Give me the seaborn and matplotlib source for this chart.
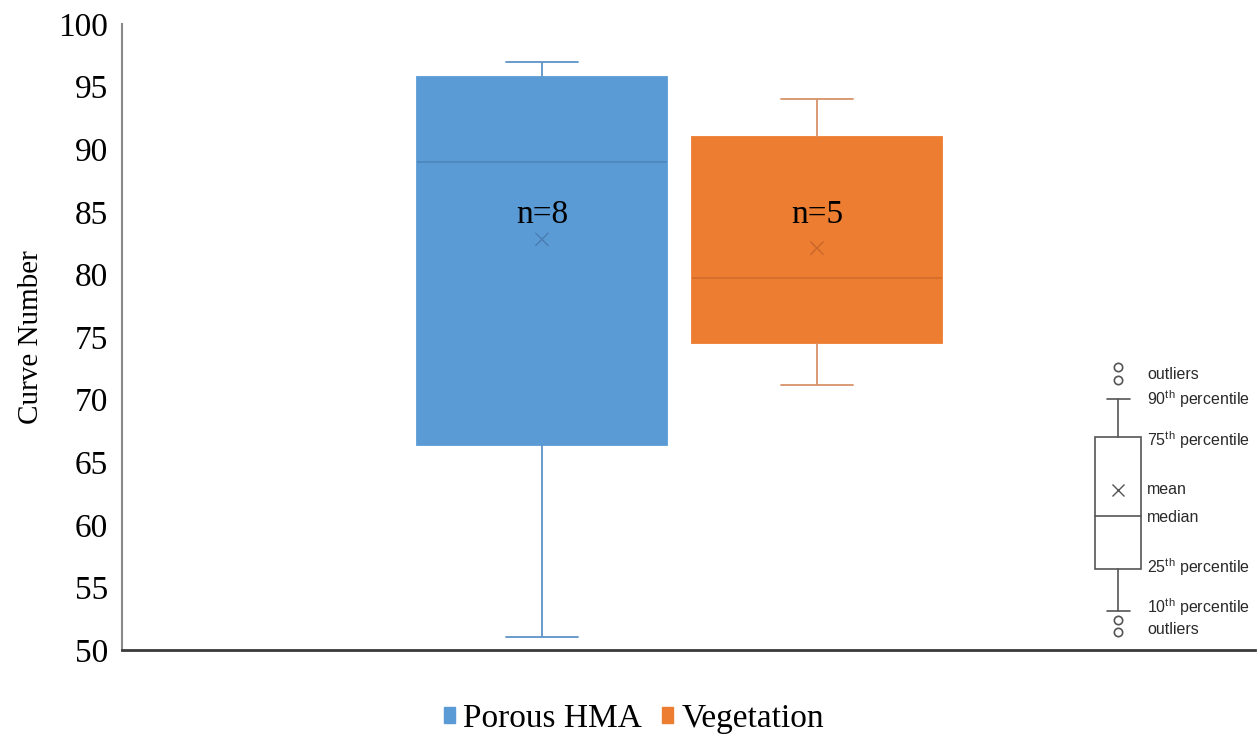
import matplotlib
matplotlib.use("Agg")
import matplotlib.pyplot as plt
from matplotlib.patches import Patch, Rectangle
import numpy as np
import pandas as pd
import seaborn as sns

# values (curve numbers per site type)
groups = ["Porous HMA", "Vegetation"]
porous_hma = [51.0, 66.4, 66.4, 88.5, 89.5, 95.4, 97.0, 97.0]
vegetation = [71.2, 74.5, 79.7, 91.0, 94.0]
means = [82.8, 82.1]
y_ticks = [50, 55, 60, 65, 70, 75, 80, 85, 90, 95, 100]

fill_colors = ["#5B9BD5", "#ED7D31"]
whisker_colors = ["#5E93C8", "#D8936A"]
median_colors = ["#4F86BE", "#D46E2C"]
mean_colors = ["#4A7DB2", "#C8662C"]

sns.set_style("white")
plt.rcParams["font.family"] = ["Liberation Serif", "DejaVu Serif"]
plt.rcParams["mathtext.fontset"] = "custom"
plt.rcParams["mathtext.rm"] = "Liberation Sans"
for key_name in ["text.color", "axes.labelcolor", "xtick.color", "ytick.color"]:
    plt.rcParams[key_name] = "black"

df = pd.DataFrame({
    "group": [groups[0]] * len(porous_hma) + [groups[1]] * len(vegetation),
    "cn": porous_hma + vegetation,
})

fig = plt.figure(figsize=(12.6, 7.55), dpi=100)
ax = fig.add_axes([122 / 1260, 1 - 650 / 755, (1255 - 122) / 1260, (650 - 24) / 755])

sns.boxplot(data=df, x="group", y="cn", hue="group", order=groups, hue_order=groups,
            palette=fill_colors, saturation=1, whis=(0, 100), width=0.91,
            showfliers=False, linewidth=1.3, capwidths=0.26, legend=False, ax=ax)

for patch, c in zip(ax.patches, fill_colors):
    patch.set_edgecolor(c)

for line in ax.lines:
    xd = np.asarray(line.get_xdata(), dtype=float)
    idx = int(round(xd.mean()))
    if xd.max() - xd.min() > 0.5:
        line.set_color(median_colors[idx])
    else:
        line.set_color(whisker_colors[idx])

# mean markers
sns.scatterplot(x=groups, y=means, hue=groups, palette=mean_colors, marker="x",
                s=90, linewidth=1.0, legend=False, ax=ax, zorder=5)

# sample counts
for i, vals in enumerate([porous_hma, vegetation]):
    ax.text(i, 84.8, f"n={len(vals)}", ha="center", va="center", fontsize=24,
            color="black", zorder=6)

ax.set_ylim(50, 100)
ax.set_xlim(-1.527, 2.593)
ax.set_yticks(y_ticks)
ax.tick_params(axis="y", length=0, pad=10, labelsize=24)
ax.set_xticks([])
ax.set_xlabel("")
ax.set_ylabel("Curve Number", fontsize=21, labelpad=10)
for side in ["top", "right"]:
    ax.spines[side].set_visible(False)
ax.spines["left"].set_color("#8a8a8a")
ax.spines["left"].set_linewidth(1.5)
ax.spines["bottom"].set_color("#3a3a3a")
ax.spines["bottom"].set_linewidth(2)

# box plot key (inset, drawn in pixel space)
key = fig.add_axes([1085 / 1260, 1 - 645 / 755, 175 / 1260, 290 / 755])
key.set_xlim(1085, 1260)
key.set_ylim(645, 355)
key.axis("off")
kc = "#555555"
cx = 1118
key.add_patch(Rectangle((1095, 437), 46, 132, fill=False, edgecolor=kc, lw=1.2))
key.plot([1095, 1141], [516, 516], color=kc, lw=1.2)
key.plot([cx, cx], [399, 437], color=kc, lw=1.2)
key.plot([cx, cx], [569, 611], color=kc, lw=1.2)
key.plot([1107, 1130], [399, 399], color=kc, lw=1.2)
key.plot([1107, 1130], [611, 611], color=kc, lw=1.2)
key.plot([cx], [490], marker="x", color=kc, ms=8, mew=1.0)
key.plot([cx, cx, cx, cx], [367, 380, 620, 632], ls="none", marker="o", mfc="white",
         mec=kc, ms=6, mew=1.2)
key_labels = [
    ("outliers", 375), (r"90$^{\rm th}$ percentile", 399), (r"75$^{\rm th}$ percentile", 440),
    ("mean", 490), ("median", 517), (r"25$^{\rm th}$ percentile", 567),
    (r"10$^{\rm th}$ percentile", 607), ("outliers", 630),
]
for txt, yy in key_labels:
    key.text(1147, yy, txt, ha="left", va="center", fontsize=11.5,
             family="Liberation Sans", color="#2a2a2a")

handles = [Patch(facecolor=c, edgecolor=c, label=g) for g, c in zip(groups, fill_colors)]
fig.legend(handles=handles, loc="lower center", bbox_to_anchor=(0.503, -0.012), ncol=2,
           frameon=False, fontsize=24, handlelength=0.33, handleheight=0.33,
           handletextpad=0.25, columnspacing=0.6)

fig.savefig("out.png", dpi=100)
